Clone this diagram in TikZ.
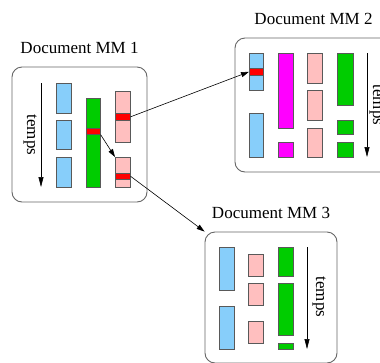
\documentclass[tikz,border=0pt]{standalone}
\usepackage{fontspec}
\setmainfont{Liberation Serif}
\usepackage{xcolor}
\usetikzlibrary{positioning,arrows.meta}
\definecolor{barblue}{RGB}{135,206,250}
\definecolor{bargreen}{RGB}{0,204,0}
\definecolor{barpink}{RGB}{255,191,191}
\definecolor{barmagenta}{RGB}{255,0,255}
\definecolor{barred}{RGB}{255,0,0}
\tikzset{
  link/.style={-{Triangle[length=8pt,width=5pt]}, line width=0.6pt, draw=black},
  every node/.style={anchor=center}
}

\begin{document}
\begin{tikzpicture}[
  x=1pt, y=-1pt,
  font=\fontsize{17}{20}\selectfont,
  docbox/.style={draw=black!60, line width=0.9pt, rounded corners=10pt, inner sep=0pt},
  title/.style={inner sep=1.5pt},
  bar/.style={draw=black!65, line width=0.6pt, inner sep=0pt, minimum width=15pt, anchor=north west},
  timeline/.style={-{Triangle[length=10pt,width=5pt]}, line width=0.6pt, draw=black},
  timetext/.style={rotate=-90, inner sep=0pt}
]
\clip (0,0) rectangle (380,362);

% documents
\node[docbox, minimum width=135pt, minimum height=135pt] (mm1) at (79.5,134.5) {};
\node[docbox, minimum width=157pt, minimum height=134pt] (mm2) at (313.5,105) {};
\node[docbox, minimum width=132pt, minimum height=131pt] (mm3) at (271,297.5) {};
\node[title, above=11pt of mm1] (mm1title) {Document MM 1};
\node[title, above=11pt of mm2] (mm2title) {Document MM 2};
\node[title, above=11pt of mm3] (mm3title) {Document MM 3};

% MM 1
\node[bar, fill=barblue, minimum height=30pt] (bluea) at (56,83) {};
\node[bar, fill=barblue, minimum height=29pt] (blueb) at (56,120) {};
\node[bar, fill=barblue, minimum height=30pt] (bluec) at (56,157) {};
\node[bar, fill=bargreen, minimum width=14pt, minimum height=89pt] (greena) at (86,98) {};
\node[bar, fill=barred, minimum width=14pt, minimum height=6pt] (greenamark) at (86,128) {};
\node[bar, fill=barpink, minimum height=51pt] (pinka) at (115,91) {};
\node[bar, fill=barred, minimum height=7pt] (pinkamark) at (115,113) {};
\node[bar, fill=barpink, minimum height=30pt] (pinkb) at (115,157) {};
\node[bar, fill=barred, minimum height=6pt] (pinkbmark) at (115,173) {};
\coordinate (timeAtop) at (41,83);
\coordinate (timeAbot) at (41,187);
\draw[timeline] (timeAtop) -- (timeAbot);
\node[timetext] (timeAtext) at (30,135) {temps};

% MM 2
\node[bar, fill=barblue, minimum width=14pt, minimum height=37pt] (blued) at (249,53) {};
\node[bar, fill=barred, minimum width=14pt, minimum height=7pt] (bluedmark) at (249,68) {};
\node[bar, fill=barblue, minimum width=14pt, minimum height=44pt] (bluee) at (249,113) {};
\node[bar, fill=barmagenta, minimum height=75pt] (magentaa) at (278,53) {};
\node[bar, fill=barmagenta, minimum height=15pt] (magentab) at (278,142) {};
\node[bar, fill=barpink, minimum height=30pt] (pinkc) at (307,53) {};
\node[bar, fill=barpink, minimum height=30pt] (pinkd) at (307,90) {};
\node[bar, fill=barpink, minimum height=29pt] (pinke) at (307,128) {};
\node[bar, fill=bargreen, minimum width=16pt, minimum height=52pt] (greenb) at (337,53) {};
\node[bar, fill=bargreen, minimum width=16pt, minimum height=14pt] (greenc) at (337,120) {};
\node[bar, fill=bargreen, minimum width=16pt, minimum height=15pt] (greend) at (337,142) {};
\coordinate (timeBtop) at (367,53);
\coordinate (timeBbot) at (367,157);
\draw[timeline] (timeBtop) -- (timeBbot);
\node[timetext] (timeBtext) at (376,105) {temps};

% MM 3
\node[bar, fill=barblue, minimum height=43pt] (bluef) at (219,247) {};
\node[bar, fill=barblue, minimum height=43pt] (blueg) at (219,306) {};
\node[bar, fill=barpink, minimum height=22pt] (pinkf) at (248,254) {};
\node[bar, fill=barpink, minimum height=22pt] (pinkg) at (248,283) {};
\node[bar, fill=barpink, minimum height=22pt] (pinkh) at (248,321) {};
\node[bar, fill=bargreen, minimum height=29pt] (greene) at (278,247) {};
\node[bar, fill=bargreen, minimum height=52pt] (greenf) at (278,283) {};
\node[bar, fill=bargreen, minimum height=6pt] (greeng) at (278,343) {};
\coordinate (timeCtop) at (307,247);
\coordinate (timeCbot) at (307,349);
\draw[timeline] (timeCtop) -- (timeCbot);
\node[timetext] (timeCtext) at (319,297) {temps};

% links
\draw[link] (greenamark.south east) -- (pinkb.north west);
\draw[link] (pinkamark.east) -- (bluedmark.west);
\draw[link] (pinkbmark.east) -- (mm3.north west);
\end{tikzpicture}
\end{document}
